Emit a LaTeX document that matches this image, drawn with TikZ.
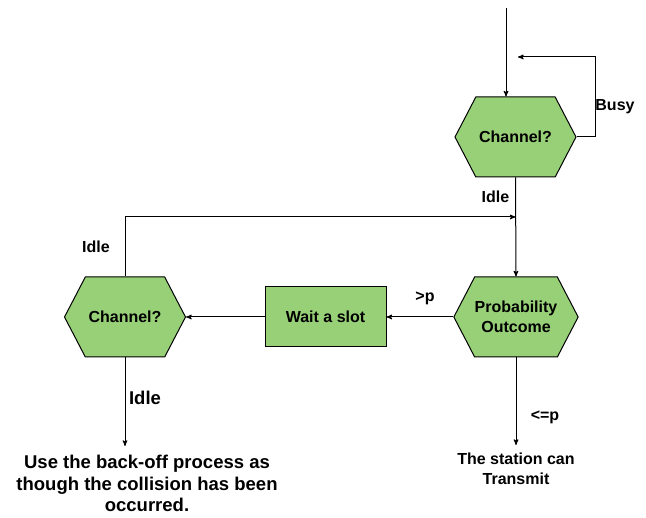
\documentclass[tikz,border=0pt]{standalone}
\usepackage{fontspec}
\setmainfont{Liberation Sans}
\usetikzlibrary{arrows,calc,positioning,shapes.symbols}
\definecolor{leaf}{HTML}{97D077}
\tikzset{
    >=stealth',
    hexa/.style={
           signal, signal to=east and west,
           signal pointer angle=125,
           draw=black, fill=leaf,
           minimum width=121pt, minimum height=80pt,
           inner sep=0pt,
           font=\bfseries\fontsize{16pt}{20pt}\selectfont,
           align=center},
    kasse/.style={
           rectangle,
           draw=black, fill=leaf,
           minimum width=121pt, minimum height=60pt,
           inner sep=0pt,
           font=\bfseries\fontsize{16pt}{20pt}\selectfont},
    merke/.style={
           inner sep=0pt,
           font=\bfseries\fontsize{16pt}{20pt}\selectfont},
    stor/.style={
           inner sep=0pt,
           font=\bfseries\fontsize{18.5pt}{21.5pt}\selectfont,
           align=center},
    pil/.style={
           ->,
           line width=1pt}
}

\begin{document}
\begin{tikzpicture}[x=1pt,y=-1pt,line width=1pt]
          \useasboundingbox (0,0) rectangle (646,518);
          % boxes
          \node[hexa](kanal) at (515.5,137) {Channel?};
          \node[hexa](sanns) at (516,317) {Probability\\Outcome};
          \node[kasse](vent) at (325.5,317) {Wait a slot};
          \node[hexa](kanalb) at (125,317) {Channel?};
          \node[merke, align=center, inner ysep=7pt, anchor=north](send) at (516,445) {The station can\\Transmit};
          \node[stor, inner ysep=9pt, anchor=north](tilbake) at (147,446) {Use the back-off process as\\though the collision has been\\occurred.};
          % free ends
          \coordinate (start) at (506,8);
          \coordinate (opptatt) at (595,57);
          \coordinate (retur) at (518,57);
          \coordinate (knute) at (515.5,217);
          % labels
          \node[merke] (lbusy) at (615,107) {Busy};
          \node[merke] (lidle) at (495.5,197) {Idle};
          \node[merke] (lidleb) at (96,247) {Idle};
          \node[merke] (lstor) at (425,298) {>p};
          \node[merke] (lmindre) at (545,417) {<=p};
          \node[stor] (lidlec) at (145,398) {Idle};
          % connectors
          \draw[pil] (start) -- (start |- kanal.north);
          \draw[pil] (kanal.east) -| (opptatt) -- (retur);
          \draw[pil] (kanal.south) -- (sanns.north);
          \draw[pil] (sanns.west) -- (vent.east);
          \draw[pil] (vent.west) -- (kanalb.east);
          \draw[pil] (kanalb.north) |- (knute);
          \draw[pil] (sanns.south) -- (send.north);
          \draw[pil] (kanalb.south) -- (kanalb.south |- tilbake.north);
\end{tikzpicture}
\end{document}
